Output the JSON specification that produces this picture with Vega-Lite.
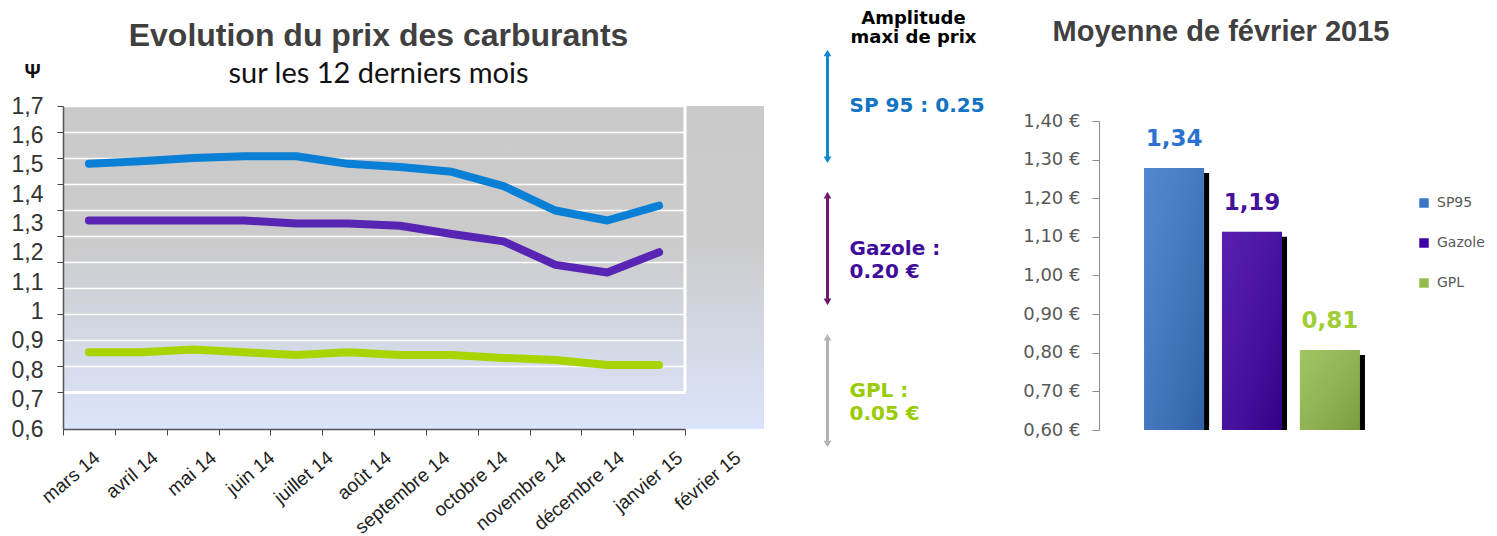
{
  "$schema": "https://vega.github.io/schema/vega-lite/v6.json",
  "background": "white",
  "padding": {"left": 11, "top": 9, "right": 5, "bottom": 5},
  "spacing": 62,
  "bounds": "flush",
  "config": {"view": {"stroke": null}, "font": "Liberation Sans"},
  "datasets": {
    "prix": [
      {"mois": "mars 14", "carburant": "SP95", "prix": 1.503},
      {"mois": "avril 14", "carburant": "SP95", "prix": 1.512},
      {"mois": "mai 14", "carburant": "SP95", "prix": 1.523},
      {"mois": "juin 14", "carburant": "SP95", "prix": 1.529},
      {"mois": "juillet 14", "carburant": "SP95", "prix": 1.529},
      {"mois": "août 14", "carburant": "SP95", "prix": 1.503},
      {"mois": "septembre 14", "carburant": "SP95", "prix": 1.492},
      {"mois": "octobre 14", "carburant": "SP95", "prix": 1.476},
      {"mois": "novembre 14", "carburant": "SP95", "prix": 1.427},
      {"mois": "décembre 14", "carburant": "SP95", "prix": 1.344},
      {"mois": "janvier 15", "carburant": "SP95", "prix": 1.31},
      {"mois": "février 15", "carburant": "SP95", "prix": 1.361},
      {"mois": "mars 14", "carburant": "Gazole", "prix": 1.31},
      {"mois": "avril 14", "carburant": "Gazole", "prix": 1.31},
      {"mois": "mai 14", "carburant": "Gazole", "prix": 1.31},
      {"mois": "juin 14", "carburant": "Gazole", "prix": 1.31},
      {"mois": "juillet 14", "carburant": "Gazole", "prix": 1.3},
      {"mois": "août 14", "carburant": "Gazole", "prix": 1.3},
      {"mois": "septembre 14", "carburant": "Gazole", "prix": 1.292},
      {"mois": "octobre 14", "carburant": "Gazole", "prix": 1.264},
      {"mois": "novembre 14", "carburant": "Gazole", "prix": 1.239},
      {"mois": "décembre 14", "carburant": "Gazole", "prix": 1.159},
      {"mois": "janvier 15", "carburant": "Gazole", "prix": 1.133},
      {"mois": "février 15", "carburant": "Gazole", "prix": 1.202},
      {"mois": "mars 14", "carburant": "GPL", "prix": 0.861},
      {"mois": "avril 14", "carburant": "GPL", "prix": 0.861},
      {"mois": "mai 14", "carburant": "GPL", "prix": 0.871},
      {"mois": "juin 14", "carburant": "GPL", "prix": 0.861},
      {"mois": "juillet 14", "carburant": "GPL", "prix": 0.852},
      {"mois": "août 14", "carburant": "GPL", "prix": 0.861},
      {"mois": "septembre 14", "carburant": "GPL", "prix": 0.852},
      {"mois": "octobre 14", "carburant": "GPL", "prix": 0.852},
      {"mois": "novembre 14", "carburant": "GPL", "prix": 0.842},
      {"mois": "décembre 14", "carburant": "GPL", "prix": 0.835},
      {"mois": "janvier 15", "carburant": "GPL", "prix": 0.818},
      {"mois": "février 15", "carburant": "GPL", "prix": 0.818}
    ],
    "amplitude": [
      {"carburant": "SP95", "texte": "SP 95 : 0.25"},
      {"carburant": "Gazole", "texte": "Gazole :\n0.20 €"},
      {"carburant": "GPL", "texte": "GPL :\n0.05 €"}
    ],
    "moyenne": [
      {"carburant": "SP95", "prix": 1.278, "etiquette": "1,34"},
      {"carburant": "Gazole", "prix": 1.113, "etiquette": "1,19"},
      {"carburant": "GPL", "prix": 0.807, "etiquette": "0,81"}
    ]
  },
  "hconcat": [
    {
      "width": 701,
      "height": 323,
      "view": {
        "stroke": null,
        "fill": {"gradient": "linear", "x1": 0, "y1": 0, "x2": 0, "y2": 1, "stops": [{"offset": 0, "color": "#cacaca"}, {"offset": 0.42, "color": "#cbcbcb"}, {"offset": 1, "color": "#dbe4fb"}]}
      },
      "title": {
        "text": "Evolution du prix des carburants",
        "subtitle": "sur les 12 derniers mois",
        "font": "Liberation Sans",
        "fontSize": 32,
        "fontWeight": "bold",
        "color": "#404040",
        "subtitleFont": "Lato",
        "subtitleFontSize": 29,
        "subtitleColor": "#111111",
        "subtitlePadding": 7,
        "anchor": "middle",
        "dx": -35,
        "offset": -29
      },
      "data": {"name": "prix"},
      "layer": [
        {
          "mark": {"type": "point", "opacity": 0},
          "encoding": {
            "x": {"field": "mois", "type": "nominal", "scale": {"type": "band", "domain": ["mars 14", "avril 14", "mai 14", "juin 14", "juillet 14", "août 14", "septembre 14", "octobre 14", "novembre 14", "décembre 14", "janvier 15", "février 15"], "range": [0, 622], "paddingInner": 0, "paddingOuter": 0}, "axis": null},
            "y": {
              "field": "prix",
              "type": "quantitative",
              "scale": {"domain": [0.6, 1.7], "range": [286, 0], "zero": false, "nice": false},
              "axis": {
                "orient": "left",
                "values": [0.6, 0.7, 0.8, 0.9, 1, 1.1, 1.2, 1.3, 1.4, 1.5, 1.6, 1.7],
                "labels": false,
                "domain": false,
                "ticks": true,
                "tickSize": 6,
                "tickColor": "#444444",
                "grid": true,
                "gridColor": "#ffffff",
                "gridOpacity": 1,
                "gridWidth": {"condition": {"test": "datum.value < 0.65", "value": 3}, "value": 1.5},
                "title": null
              }
            }
          }
        },
        {
          "data": {"values": [{}]},
          "mark": {"type": "rule", "color": "#ffffff", "strokeWidth": 3},
          "encoding": {
            "x": {"datum": "février 15", "type": "nominal", "bandPosition": 1, "scale": {"type": "band", "domain": ["mars 14", "avril 14", "mai 14", "juin 14", "juillet 14", "août 14", "septembre 14", "octobre 14", "novembre 14", "décembre 14", "janvier 15", "février 15"], "range": [0, 622], "paddingInner": 0, "paddingOuter": 0}, "axis": null},
            "y": {"datum": 1.7, "type": "quantitative", "scale": {"domain": [0.6, 1.7], "range": [286, 0], "zero": false, "nice": false}, "axis": null},
            "y2": {"datum": 0.6}
          }
        },
        {
          "mark": {"type": "line", "strokeWidth": 8, "strokeCap": "round", "strokeJoin": "round"},
          "encoding": {
            "x": {
              "field": "mois",
              "type": "nominal",
              "scale": {"type": "band", "domain": ["mars 14", "avril 14", "mai 14", "juin 14", "juillet 14", "août 14", "septembre 14", "octobre 14", "novembre 14", "décembre 14", "janvier 15", "février 15"], "range": [0, 622], "paddingInner": 0, "paddingOuter": 0},
              "axis": {"orient": "bottom", "labels": false, "tickBand": "extent", "ticks": true, "tickSize": 6, "tickColor": "#444444", "domain": true, "domainColor": "#555555", "domainWidth": 1.5, "grid": false, "title": null}
            },
            "y": {
              "field": "prix",
              "type": "quantitative",
              "scale": {"domain": [0.6, 1.7], "range": [323, 0], "zero": false, "nice": false},
              "axis": {
                "orient": "left",
                "values": [0.6, 0.7, 0.8, 0.9, 1, 1.1, 1.2, 1.3, 1.4, 1.5, 1.6, 1.7],
                "labelExpr": "replace(format(datum.value, '~g'), '.', ',')",
                "ticks": false,
                "labelPadding": 20,
                "labelFont": "Liberation Sans",
                "labelFontSize": 23,
                "labelColor": "#333333",
                "domain": true,
                "domainColor": "#555555",
                "domainWidth": 1.5,
                "grid": false,
                "title": "Ψ",
                "titleAngle": 0,
                "titleX": -31,
                "titleY": -35,
                "titleFontSize": 20,
                "titleFontWeight": "bold",
                "titleColor": "#111111",
                "titleAlign": "center",
                "titleBaseline": "middle"
              }
            },
            "color": {"field": "carburant", "type": "nominal", "scale": {"domain": ["SP95", "Gazole", "GPL"], "range": ["#0a7fd6", "#5824b4", "#a9d400"]}, "legend": null}
          }
        },
        {
          "mark": {"type": "point", "opacity": 0},
          "encoding": {
            "x": {
              "field": "mois",
              "type": "nominal",
              "scale": {"type": "point", "domain": ["mars 14", "avril 14", "mai 14", "juin 14", "juillet 14", "août 14", "septembre 14", "octobre 14", "novembre 14", "décembre 14", "janvier 15", "février 15"], "range": [28, 669], "padding": 0},
              "axis": {"orient": "bottom", "labelAngle": -40, "labelAlign": "right", "labelBaseline": "top", "labelPadding": 19, "ticks": false, "domain": false, "grid": false, "labelFont": "Liberation Sans", "labelFontSize": 19, "labelColor": "#222222", "labelOverlap": false, "labelBound": false, "labelLimit": 0, "title": null}
            }
          }
        }
      ],
      "resolve": {"scale": {"x": "independent", "y": "independent"}}
    },
    {
      "spacing": 270,
      "bounds": "flush",
      "hconcat": [
        {
          "width": 3,
          "height": 323,
          "view": {"stroke": null},
          "title": {"text": ["Amplitude", "maxi de prix"], "font": "DejaVu Sans", "fontSize": 18, "fontWeight": "bold", "color": "#000000", "anchor": "middle", "dx": 86, "offset": 3, "lineHeight": 19},
          "data": {"name": "amplitude"},
          "layer": [
            {
              "mark": {"type": "rect"},
              "encoding": {
                "y": {"field": "carburant", "type": "nominal", "scale": {"type": "band", "domain": ["SP95", "Gazole", "GPL"], "range": [-53, 338], "paddingInner": 0.249, "paddingOuter": 0}, "axis": null},
                "color": {"field": "carburant", "type": "nominal", "scale": {"domain": ["SP95", "Gazole", "GPL"], "range": ["#1088d0", "#6e1a6e", "#b3b3b3"]}, "legend": null}
              }
            },
            {
              "mark": {"type": "point", "shape": "triangle-up", "filled": true, "size": 60, "opacity": 1},
              "encoding": {
                "y": {"field": "carburant", "type": "nominal", "bandPosition": 0},
                "color": {"field": "carburant", "type": "nominal", "scale": {"domain": ["SP95", "Gazole", "GPL"], "range": ["#1088d0", "#6e1a6e", "#b3b3b3"]}, "legend": null}
              }
            },
            {
              "mark": {"type": "point", "shape": "triangle-down", "filled": true, "size": 60, "opacity": 1},
              "encoding": {
                "y": {"field": "carburant", "type": "nominal", "bandPosition": 1},
                "color": {"field": "carburant", "type": "nominal", "scale": {"domain": ["SP95", "Gazole", "GPL"], "range": ["#1088d0", "#6e1a6e", "#b3b3b3"]}, "legend": null}
              }
            },
            {
              "mark": {"type": "text", "align": "left", "baseline": "middle", "dx": 22, "font": "DejaVu Sans", "fontWeight": "bold", "fontSize": 20, "lineBreak": "\n", "lineHeight": 23},
              "encoding": {
                "y": {"field": "carburant", "type": "nominal"},
                "text": {"field": "texte"},
                "color": {"field": "carburant", "type": "nominal", "scale": {"domain": ["SP95", "Gazole", "GPL"], "range": ["#1273c4", "#3f0c9c", "#99cc00"]}, "legend": null}
              }
            }
          ],
          "resolve": {"scale": {"color": "independent"}}
        },
        {
          "width": 306,
          "height": 323,
          "view": {"stroke": null},
          "title": {"text": "Moyenne de février 2015", "font": "Liberation Sans", "fontSize": 29, "fontWeight": "bold", "color": "#404040", "anchor": "middle", "dx": -31, "offset": 59},
          "data": {"name": "moyenne"},
          "encoding": {
            "x": {"field": "carburant", "type": "nominal", "scale": {"type": "band", "domain": ["SP95", "Gazole", "GPL"], "paddingInner": 0.229, "paddingOuter": 0.578}, "axis": null},
            "y": {
              "field": "prix",
              "type": "quantitative",
              "scale": {"domain": [0.6, 1.4], "range": [324, 15], "zero": false, "nice": false},
              "axis": {"orient": "left", "values": [0.6, 0.7, 0.8, 0.9, 1, 1.1, 1.2, 1.3, 1.4], "labelExpr": "replace(format(datum.value, '.2f'), '.', ',') + ' €'", "tickSize": 7, "tickColor": "#8c8c8c", "domainColor": "#8c8c8c", "labelPadding": 12, "labelFont": "DejaVu Sans", "labelFontSize": 18, "labelColor": "#595959", "grid": false, "title": null}
            }
          },
          "layer": [
            {"mark": {"type": "bar", "color": "#000000", "xOffset": 5, "yOffset": 5}, "encoding": {"y2": {"datum": 0.6}}},
            {
              "mark": {"type": "bar"},
              "encoding": {
                "y2": {"datum": 0.6},
                "color": {"field": "carburant", "type": "nominal", "scale": {"domain": ["SP95", "Gazole", "GPL"], "range": ["#3a77c9", "#3f00a4", "#93bd4e"]}, "legend": {"orient": "none", "legendX": 318, "legendY": 90, "title": null, "symbolType": "square", "symbolSize": 90, "symbolStrokeWidth": 0, "labelFont": "DejaVu Sans", "labelFontSize": 14, "labelColor": "#595959", "rowPadding": 26, "labelOffset": 6}}
              }
            },
            {
              "mark": {"type": "bar", "fill": {"gradient": "linear", "x1": 0, "y1": 0, "x2": 1, "y2": 1, "stops": [{"offset": 0, "color": "rgba(255,255,255,0.12)"}, {"offset": 1, "color": "rgba(0,0,0,0.18)"}]}},
              "encoding": {"y2": {"datum": 0.6}}
            },
            {
              "mark": {"type": "text", "font": "DejaVu Sans", "fontWeight": "bold", "fontSize": 23, "baseline": "alphabetic", "dy": -22},
              "encoding": {
                "text": {"field": "etiquette"},
                "color": {"field": "carburant", "type": "nominal", "scale": {"domain": ["SP95", "Gazole", "GPL"], "range": ["#2a72cf", "#44119b", "#9fcd35"]}, "legend": null}
              }
            }
          ],
          "resolve": {"scale": {"color": "independent"}}
        }
      ]
    }
  ]
}
